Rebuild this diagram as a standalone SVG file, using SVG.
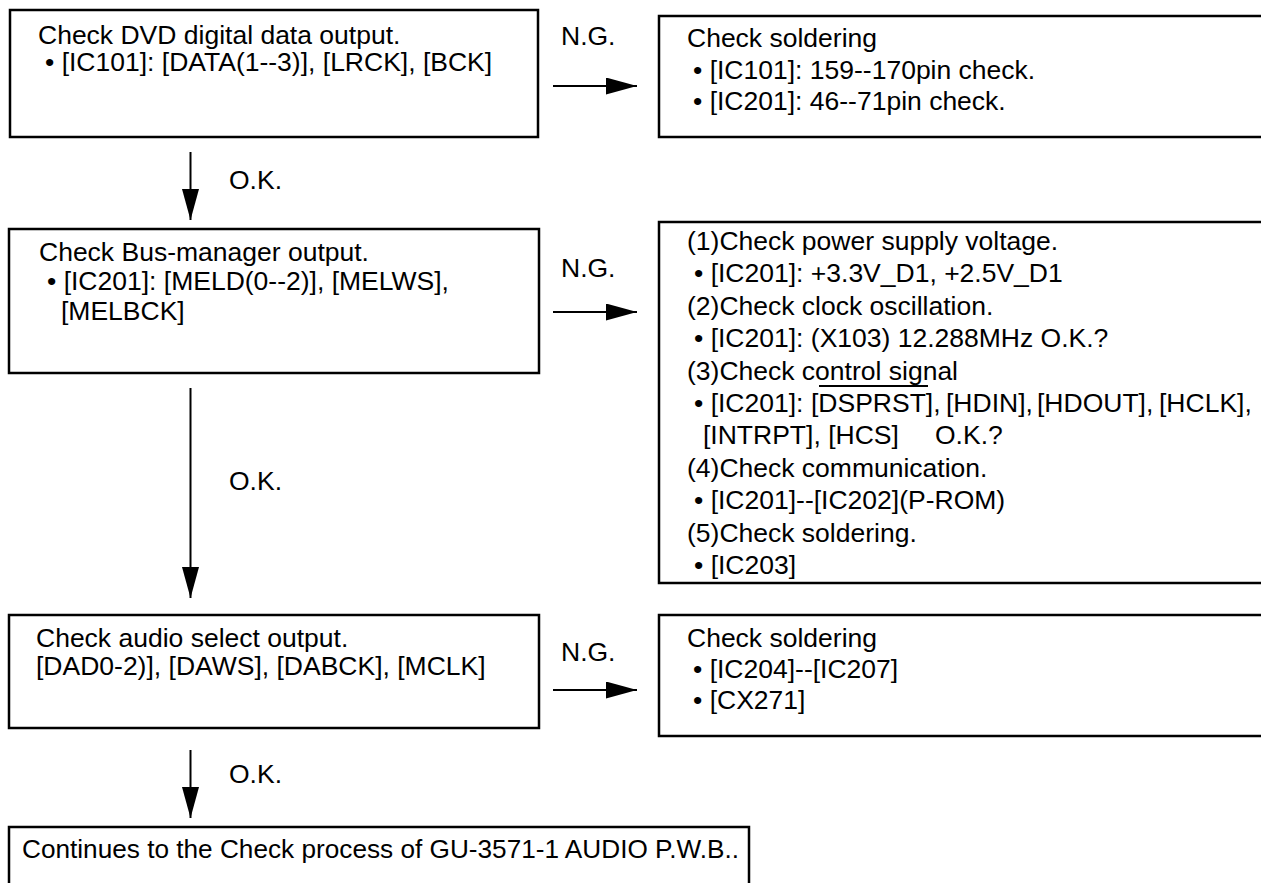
<svg xmlns="http://www.w3.org/2000/svg" width="1261" height="883" viewBox="0 0 1261 883">
<style>
.box{fill:#fff;stroke:#000;stroke-width:2.5}
.t{font-family:"Liberation Sans",Arial,sans-serif;font-size:26.5px;fill:#000}
.c{stroke:#000;stroke-width:2;fill:none}
</style>
<defs>
<marker id="ah" markerUnits="userSpaceOnUse" markerWidth="31" markerHeight="17" refX="31" refY="8.5" orient="auto">
<path d="M0,0 L31,8.5 L0,17 z" fill="#000"/>
</marker>
</defs>
<rect width="1261" height="883" fill="#fff"/>
<g id="connectors">
<line class="c" x1="190.5" y1="152" x2="190.5" y2="220" marker-end="url(#ah)"/>
<line class="c" x1="190.5" y1="388" x2="190.5" y2="598" marker-end="url(#ah)"/>
<line class="c" x1="190.5" y1="750" x2="190.5" y2="818" marker-end="url(#ah)"/>
<line class="c" x1="553" y1="86" x2="637" y2="86" marker-end="url(#ah)"/>
<line class="c" x1="553" y1="312" x2="637" y2="312" marker-end="url(#ah)"/>
<line class="c" x1="553" y1="690" x2="637" y2="690" marker-end="url(#ah)"/>
<text class="t" x="229" y="189">O.K.</text>
<text class="t" x="229" y="490">O.K.</text>
<text class="t" x="229" y="783">O.K.</text>
<text class="t" x="561" y="45">N.G.</text>
<text class="t" x="561" y="277">N.G.</text>
<text class="t" x="561" y="661">N.G.</text>
</g>
<g id="n1">
<rect class="box" x="10" y="10" width="528" height="127"/>
<text class="t" x="38" y="44">Check DVD digital data output.</text>
<text class="t" x="45" y="71">• [IC101]: [DATA(1--3)], [LRCK], [BCK]</text>
</g>
<g id="n2">
<rect class="box" x="659" y="16" width="610" height="121"/>
<text class="t" x="687" y="47">Check soldering</text>
<text class="t" x="693" y="79">• [IC101]: 159--170pin check.</text>
<text class="t" x="693" y="110">• [IC201]: 46--71pin check.</text>
</g>
<g id="n3">
<rect class="box" x="9" y="229" width="530" height="144"/>
<text class="t" x="39" y="261">Check Bus-manager output.</text>
<text class="t" x="47" y="290">• [IC201]: [MELD(0--2)], [MELWS],</text>
<text class="t" x="61" y="320">[MELBCK]</text>
</g>
<g id="n4">
<rect class="box" x="659" y="222" width="610" height="361"/>
<text class="t" x="687" y="250">(1)Check power supply voltage.</text>
<text class="t" x="694" y="282">• [IC201]: +3.3V_D1, +2.5V_D1</text>
<text class="t" x="687" y="315">(2)Check clock oscillation.</text>
<text class="t" x="694" y="347">• [IC201]: (X103) 12.288MHz O.K.?</text>
<text class="t" x="687" y="380">(3)Check control signal</text>
<text class="t" x="694" y="412">• [IC201]:<tspan x="811">[DSPRST],</tspan><tspan x="946">[HDIN],</tspan><tspan x="1037">[HDOUT],</tspan><tspan x="1159">[HCLK],</tspan></text>
<line x1="819" y1="386" x2="928" y2="386" stroke="#000" stroke-width="2"/>
<text class="t" x="703" y="444">[INTRPT], [HCS]<tspan x="935">O.K.?</tspan></text>
<text class="t" x="687" y="477">(4)Check communication.</text>
<text class="t" x="694" y="509">• [IC201]--[IC202](P-ROM)</text>
<text class="t" x="687" y="542">(5)Check soldering.</text>
<text class="t" x="694" y="574">• [IC203]</text>
</g>
<g id="n5">
<rect class="box" x="9" y="615" width="530" height="113"/>
<text class="t" x="36" y="647">Check audio select output.</text>
<text class="t" x="36" y="675">[DAD0-2)], [DAWS], [DABCK], [MCLK]</text>
</g>
<g id="n6">
<rect class="box" x="659" y="615" width="610" height="121"/>
<text class="t" x="687" y="647">Check soldering</text>
<text class="t" x="693" y="678">• [IC204]--[IC207]</text>
<text class="t" x="693" y="709">• [CX271]</text>
</g>
<g id="n7">
<rect class="box" x="9" y="827" width="740" height="70"/>
<text class="t" x="22" y="858" textLength="717" lengthAdjust="spacingAndGlyphs">Continues to the Check process of GU-3571-1 AUDIO P.W.B..</text>
</g>
</svg>
